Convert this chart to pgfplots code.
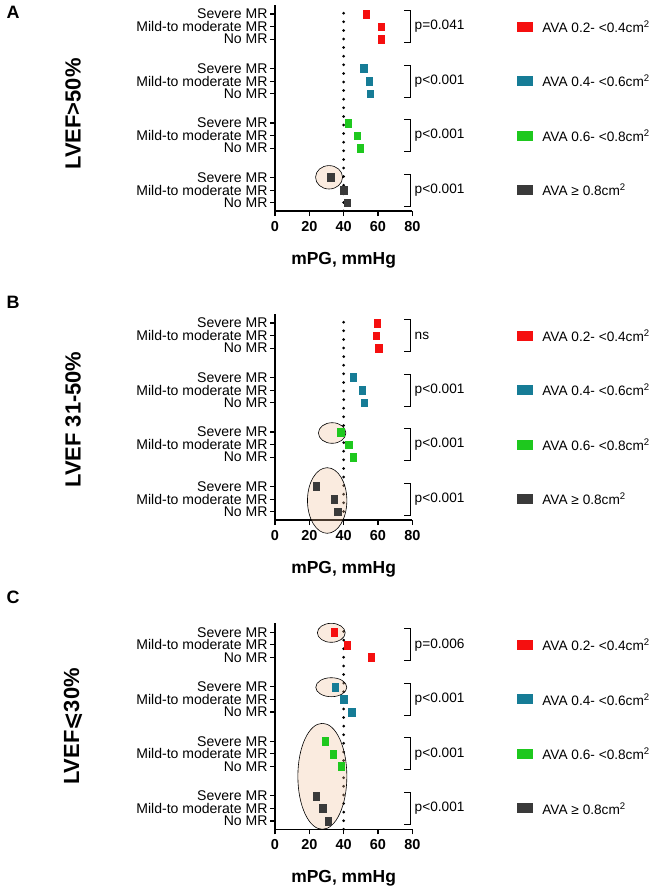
\documentclass[border=0pt]{standalone}
\usepackage{fontspec}
\setmainfont{Liberation Sans}
\newfontfamily\dejavu{DejaVu Sans}
\usepackage{pgfplots}
\pgfplotsset{compat=1.18}
\definecolor{cred}{RGB}{245,15,15}
\definecolor{cblue}{RGB}{22,124,150}
\definecolor{cgreen}{RGB}{30,200,30}
\definecolor{cdark}{RGB}{58,58,58}
\definecolor{peach}{RGB}{240,190,150}
\tikzset{ell/.style={black, line width=0.6bp, fill=peach, fill opacity=0.3}}
\pgfplotsset{
 panel/.style={
  scale only axis, width=137.3bp, height=206bp,
  xmin=0,xmax=80,ymin=0,ymax=206,
  axis x line=bottom, axis y line=left,
  axis line style={-, line width=1.1bp},
  every tick/.style={black, line width=1.1bp},
  tick align=outside, major tick length=5bp,
  xtick={0,20,...,80},
  ytick={8.3,20.9,33.5,62.8,75.4,88.0,117.3,129.9,142.5,171.8,184.4,197.0},
  yticklabels={No MR,Mild-to moderate MR,Severe MR,No MR,Mild-to moderate MR,Severe MR,No MR,Mild-to moderate MR,Severe MR,No MR,Mild-to moderate MR,Severe MR},
  /pgf/number format/assume math mode=true,
  xticklabel style={font=\bfseries\fontsize{14.5}{14.5}\selectfont, yshift=-1.5bp},
  yticklabel style={font=\fontsize{14.1}{14.1}\selectfont, xshift=1bp},
  xlabel={mPG, mmHg},
  xlabel style={font=\bfseries\fontsize{17.5}{17.5}\selectfont, at={(axis description cs:0.5,0)}, anchor=center, yshift=-49bp},
  clip=false,
 },
 dp/.style={only marks, mark=square*, mark size=3.9bp, mark options={xscale=0.82, draw=#1, fill=#1}},
 refline/.style={black, line width=3bp, line cap=round, dash pattern=on 0bp off 8.6bp},
}
\newcommand{\pbracket}[2]{%
 \draw[line width=1.1bp] (axis cs:75.3,#1+16) -- (axis cs:78.8,#1+16) -- (axis cs:78.8,#1-16) -- (axis cs:75.3,#1-16);
 \node[anchor=west,inner sep=0pt,font=\fontsize{13.7}{13.7}\selectfont] at (axis cs:81.3,#1) {#2};}
\newcommand{\legsq}[3]{%
 \fill[#1] ([yshift=-5bp]axis cs:141.3,#2) rectangle ([yshift=5bp,xshift=16bp]axis cs:141.3,#2);
 \node[anchor=west,inner sep=0pt,font=\fontsize{13.7}{13.7}\selectfont] at (axis cs:155.7,#2) {#3};}
\newcommand{\mylegend}{%
 \legsq{cred}{184.4}{AVA 0.2- <0.4cm\textsuperscript{2}}
 \legsq{cblue}{129.9}{AVA 0.4- <0.6cm\textsuperscript{2}}
 \legsq{cgreen}{75.4}{AVA 0.6- <0.8cm\textsuperscript{2}}
 \legsq{cdark}{20.9}{AVA ≥ 0.8cm\textsuperscript{2}}}
\begin{document}
\begin{tikzpicture}
\useasboundingbox (0,0) rectangle (649bp,-889bp);
% Panel A
\node[font=\bfseries\fontsize{18}{18}\selectfont] at (13bp,-12bp) {A};
\node[rotate=90,font=\bfseries\fontsize{22}{22}\selectfont] at (73bp,-114bp) {LVEF>50\%};
\begin{axis}[panel, at={(275bp,-211bp)}, anchor=south west]
\addplot[refline] coordinates {(40,0) (40,206)};
\addplot[dp=cred] coordinates {(53,197.0) (62,184.4) (62,171.8)};
\addplot[dp=cblue] coordinates {(51.6,142.5) (55,129.9) (55.5,117.3)};
\addplot[dp=cgreen] coordinates {(42.8,88.0) (48,75.4) (49.8,62.8)};
\addplot[dp=cdark] coordinates {(32.5,33.5) (40,20.9) (42.2,8.3)};
\draw[ell] (axis cs:31.5,33.7) ellipse [x radius=13.5bp, y radius=11.7bp];
\pbracket{184.4}{p=0.041}
\pbracket{129.9}{p<0.001}
\pbracket{75.4}{p<0.001}
\pbracket{20.9}{p<0.001}
\mylegend
\end{axis}
% Panel B
\node[font=\bfseries\fontsize{18}{18}\selectfont] at (13bp,-302bp) {B};
\node[rotate=90,font=\bfseries\fontsize{22}{22}\selectfont] at (73bp,-419.5bp) {LVEF 31-50\%};
\begin{axis}[panel, at={(275bp,-520bp)}, anchor=south west]
\addplot[refline] coordinates {(40,0) (40,206)};
\addplot[dp=cred] coordinates {(59.4,197.0) (59,184.4) (60.5,171.8)};
\addplot[dp=cblue] coordinates {(45.7,142.5) (50.8,129.9) (51.8,117.3)};
\addplot[dp=cgreen] coordinates {(38.2,88.0) (43,75.4) (45.4,62.8)};
\addplot[dp=cdark] coordinates {(24,33.5) (34.6,20.9) (36.6,8.3)};
\draw[ell] (axis cs:33.3,87) ellipse [x radius=13.7bp, y radius=10.3bp];
\draw[ell] (axis cs:30.4,19.5) ellipse [x radius=19.7bp, y radius=32.8bp];
\pbracket{184.4}{ns}
\pbracket{129.9}{p<0.001}
\pbracket{75.4}{p<0.001}
\pbracket{20.9}{p<0.001}
\mylegend
\end{axis}
% Panel C
\node[font=\bfseries\fontsize{18}{18}\selectfont] at (13bp,-597bp) {C};
\node[rotate=90,font=\bfseries\fontsize{22}{22}\selectfont] at (73bp,-726.5bp) {LVEF{\dejavu ⩽}30\%};
\begin{axis}[panel, at={(275bp,-829.3bp)}, anchor=south west]
\addplot[refline] coordinates {(40,0) (40,206)};
\addplot[dp=cred] coordinates {(34.6,197.0) (42.2,184.4) (56.1,171.8)};
\addplot[dp=cblue] coordinates {(35,142.5) (40.1,129.9) (44.6,117.3)};
\addplot[dp=cgreen] coordinates {(29.4,88.0) (33.9,75.4) (38.5,62.8)};
\addplot[dp=cdark] coordinates {(24,33.5) (27.8,20.9) (31,8.3)};
\draw[ell] (axis cs:32.8,196.5) ellipse [x radius=13.9bp, y radius=9.5bp];
\draw[ell] (axis cs:32.8,142.1) ellipse [x radius=15.5bp, y radius=9.5bp];
\draw[ell] (axis cs:27.6,53) ellipse [x radius=24.5bp, y radius=53bp];
\pbracket{184.4}{p=0.006}
\pbracket{129.9}{p<0.001}
\pbracket{75.4}{p<0.001}
\pbracket{20.9}{p<0.001}
\mylegend
\end{axis}
\end{tikzpicture}
\end{document}
